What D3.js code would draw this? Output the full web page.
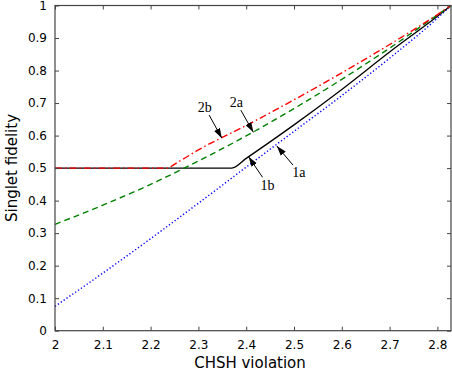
<!DOCTYPE html>
<html>
<head>
<meta charset="utf-8">
<script src="https://cdn.jsdelivr.net/npm/d3@7"></script>
<style>
  body { margin: 0; background: #fff; }
  svg { display: block; }
  .tick text { font-family: "DejaVu Sans", sans-serif; font-size: 12px; fill: #000; }
  .lbl { font-family: "Liberation Serif", "Times New Roman", serif; font-size: 14px; fill: #000; }
</style>
</head>
<body>
<div id="main"></div>
<script>
// curve values
var bX = [2.0, 2.1, 2.2, 2.3, 2.4, 2.5, 2.6, 2.7, 2.8, 2.8284];
var blue1a = [0.075, 0.177, 0.283, 0.392, 0.503, 0.613, 0.723, 0.838, 0.961, 1.0];

var gX = [2.0, 2.1, 2.2, 2.3, 2.4, 2.5, 2.6, 2.7, 2.8, 2.8284];
var green2a = [0.327, 0.386, 0.450, 0.522, 0.599, 0.683, 0.773, 0.869, 0.971, 1.0];

var kX = [2.0, 2.37, 2.4, 2.5, 2.6, 2.7, 2.8, 2.8284];
var black1b = [0.5, 0.5, 0.530, 0.633, 0.742, 0.857, 0.967, 1.0];

var rX = [2.0, 2.232, 2.26, 2.3, 2.4, 2.5, 2.6, 2.7, 2.8, 2.8284];
var red2b = [0.5, 0.5, 0.521, 0.556, 0.631, 0.710, 0.793, 0.880, 0.972, 1.0];

var xTicks = [2, 2.1, 2.2, 2.3, 2.4, 2.5, 2.6, 2.7, 2.8];
var yTicks = [0, 0.1, 0.2, 0.3, 0.4, 0.5, 0.6, 0.7, 0.8, 0.9, 1];

var notes = [
  {text: '2b', x: 2.349, y: 0.592, dx: -17, dy: -31},
  {text: '2a', x: 2.415, y: 0.610, dx: -17, dy: -30},
  {text: '1b', x: 2.405, y: 0.535, dx: 19, dy: 28},
  {text: '1a', x: 2.464, y: 0.568, dx: 22, dy: 26}
];

var W = 452, H = 371;
var margin = {left: 55, right: 1, top: 5.5, bottom: 40.3};

var svg = d3.select('#main').append('svg')
            .attr('width', W)
            .attr('height', H);

var x = d3.scaleLinear().domain([2, 2 * Math.SQRT2]).range([margin.left, W - margin.right]);
var y = d3.scaleLinear().domain([0, 1]).range([H - margin.bottom, margin.top]);

svg.append('defs').append('marker')
   .attr('id', 'head')
   .attr('viewBox', '0 0 10 10')
   .attr('refX', 10).attr('refY', 5)
   .attr('markerWidth', 10).attr('markerHeight', 10)
   .attr('markerUnits', 'userSpaceOnUse')
   .attr('orient', 'auto')
   .append('path')
   .attr('d', 'M0,1.8 L10,5 L0,8.2 Z')
   .attr('fill', '#000');

function series(xs, ys) {
  return xs.map(function(v, i) { return [v, ys[i]]; });
}

var line = d3.line()
             .x(function(d) { return x(d[0]); })
             .y(function(d) { return y(d[1]); })
             .curve(d3.curveMonotoneX);

var plot = svg.append('g');

plot.append('path')
    .attr('d', line(series(bX, blue1a)))
    .attr('fill', 'none')
    .attr('stroke', '#0000ff')
    .attr('stroke-width', 1.4)
    .attr('stroke-dasharray', '1.3,2.2');

plot.append('path')
    .attr('d', line(series(kX, black1b)))
    .attr('fill', 'none')
    .attr('stroke', '#000')
    .attr('stroke-width', 1.3);

plot.append('path')
    .attr('d', line(series(gX, green2a)))
    .attr('fill', 'none')
    .attr('stroke', '#008000')
    .attr('stroke-width', 1.4)
    .attr('stroke-dasharray', '6,4');

plot.append('path')
    .attr('d', line(series(rX, red2b)))
    .attr('fill', 'none')
    .attr('stroke', '#ff0000')
    .attr('stroke-width', 1.4)
    .attr('stroke-dasharray', '7,3,1.5,3');

// frame with inward ticks on all four sides
var frame = svg.append('g');
frame.append('rect')
     .attr('x', x(2)).attr('y', y(1))
     .attr('width', x(2 * Math.SQRT2) - x(2))
     .attr('height', y(0) - y(1))
     .attr('fill', 'none')
     .attr('stroke', '#444')
     .attr('stroke-width', 1.2);

var xb = svg.append('g')
            .attr('transform', 'translate(0,' + y(0) + ')')
            .call(d3.axisBottom(x).tickValues(xTicks).tickSize(-4).tickPadding(10)
                  .tickFormat(d3.format('')));
var xt = svg.append('g')
            .attr('transform', 'translate(0,' + y(1) + ')')
            .call(d3.axisTop(x).tickValues(xTicks).tickSize(-4).tickFormat(''));
var yl = svg.append('g')
            .attr('transform', 'translate(' + x(2) + ',0)')
            .call(d3.axisLeft(y).tickValues(yTicks).tickSize(-4).tickPadding(8)
                  .tickFormat(d3.format('')));
var yr = svg.append('g')
            .attr('transform', 'translate(' + x(2 * Math.SQRT2) + ',0)')
            .call(d3.axisRight(y).tickValues(yTicks).tickSize(-4).tickFormat(''));

[xb, xt, yl, yr].forEach(function(a) {
  a.select('.domain').remove();
  a.selectAll('.tick line').attr('stroke', '#444');
});

// annotations
notes.forEach(function(n) {
  var tx = x(n.x), ty = y(n.y);
  var len = Math.sqrt(n.dx * n.dx + n.dy * n.dy);
  var ux = n.dx / len, uy = n.dy / len;
  svg.append('line')
     .attr('x1', tx + n.dx - ux * 9).attr('y1', ty + n.dy - uy * 9)
     .attr('x2', tx).attr('y2', ty)
     .attr('stroke', '#000')
     .attr('stroke-width', 1)
     .attr('marker-end', 'url(#head)');
  svg.append('text')
     .attr('class', 'lbl')
     .attr('x', tx + n.dx)
     .attr('y', ty + n.dy + 5)
     .attr('text-anchor', 'middle')
     .text(n.text);
});

svg.append('text')
   .attr('x', 250).attr('y', 368)
   .attr('text-anchor', 'middle')
   .style('font-family', '"DejaVu Sans", sans-serif')
   .style('font-size', '15px')
   .text('CHSH violation');

svg.append('text')
   .attr('transform', 'translate(17,168) rotate(-90)')
   .attr('text-anchor', 'middle')
   .style('font-family', '"DejaVu Sans", sans-serif')
   .style('font-size', '15px')
   .text('Singlet fidelity');
</script>
</body>
</html>
